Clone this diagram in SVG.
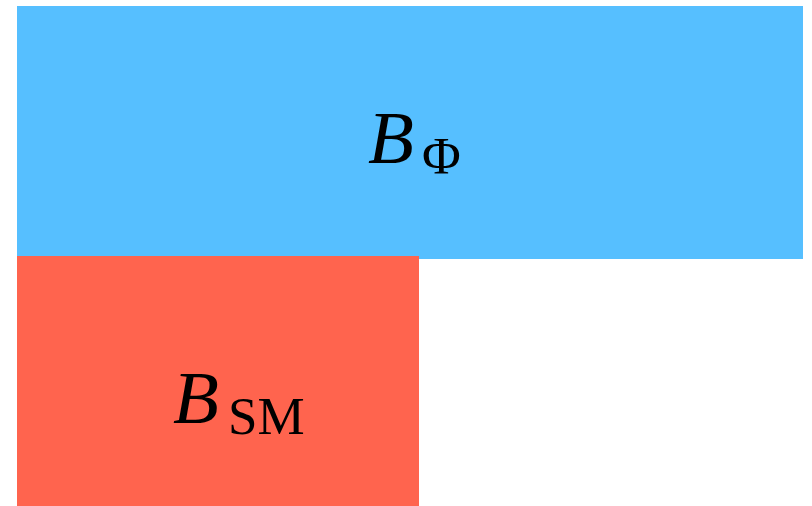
<svg xmlns="http://www.w3.org/2000/svg" width="812" height="506" viewBox="0 0 812 506">
<style>
.m{font-family:"Liberation Serif","DejaVu Serif",serif;font-style:italic;font-size:75px;fill:#000}
.s{font-family:"Liberation Serif","DejaVu Serif",serif;font-style:normal;font-size:53px;fill:#000}
</style>
<rect width="812" height="506" fill="#fff"/>
<g id="bphi">
<rect x="17" y="6" width="786" height="253" fill="#56BFFF"/>
<text x="368" y="163" class="m">B</text>
<text x="422" y="174" class="s">Φ</text>
</g>
<g id="bsm">
<rect x="17" y="256" width="402" height="250" fill="#FF644E"/>
<text x="173" y="423" class="m">B</text>
<text x="228" y="434" class="s">SM</text>
</g>
<g id="connectors"></g>
</svg>
